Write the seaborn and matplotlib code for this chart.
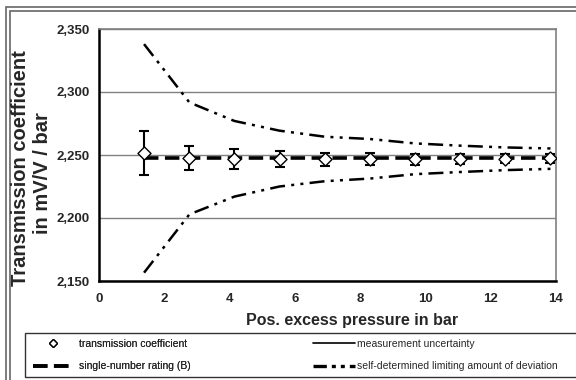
import numpy as np
import pandas as pd
import matplotlib
matplotlib.use("Agg")
import matplotlib.pyplot as plt
import seaborn as sns
from matplotlib.lines import Line2D
from matplotlib.patches import Rectangle
from matplotlib.ticker import FuncFormatter

# ---- data ----
pressure = [1.38, 2.77, 4.15, 5.53, 6.92, 8.30, 9.68, 11.07, 12.45, 13.83]
coefficient = [2.2516, 2.2474, 2.2468, 2.2466, 2.2466, 2.2466, 2.2467, 2.2467, 2.2470, 2.2474]
uncertainty = [0.0175, 0.0095, 0.0077, 0.0062, 0.0053, 0.0047, 0.0043, 0.0040, 0.0037, 0.0035]
rating_b = [2.2473] * 10
limit_upper = [2.3380, 2.2917, 2.2770, 2.2693, 2.2645, 2.2627, 2.2592, 2.2574, 2.2560, 2.2552]
limit_lower = [2.1566, 2.2029, 2.2170, 2.2250, 2.2292, 2.2313, 2.2348, 2.2365, 2.2380, 2.2390]

y_ticks = [2.15, 2.20, 2.25, 2.30, 2.35]
x_ticks = [0, 2, 4, 6, 8, 10, 12, 14]

df = pd.DataFrame({"p": pressure, "c": coefficient, "u": uncertainty,
                   "b": rating_b, "up": limit_upper, "lo": limit_lower})

sns.set_style("white")
plt.rcParams["font.family"] = ["Liberation Sans", "DejaVu Sans"]

fig = plt.figure(figsize=(5.76, 3.80), dpi=100)
W, H = 576, 380
ax = fig.add_axes([99 / W, 1 - 281 / H, (556 - 99) / W, (281 - 29) / H])

# outer double frame
for off in (6, 10):
    fig.patches.append(Rectangle((off / W, -0.05), 1.2, 1 - (off + 1) / H + 0.05,
                                 transform=fig.transFigure, fill=False,
                                 edgecolor="#666666", lw=1.2))

# grid lines
for yv in y_ticks:
    ax.axhline(yv, color="#808080", lw=1.0, zorder=0)

limit_dash = (6, 2.5, 1.2, 2.5, 1.2, 2.5)
sns.lineplot(data=df, x="p", y="up", ax=ax, color="black", lw=1.8,
             estimator=None, sort=False, zorder=2)
sns.lineplot(data=df, x="p", y="lo", ax=ax, color="black", lw=1.8,
             estimator=None, sort=False, zorder=2)
for ln in ax.lines[-2:]:
    ln.set_dashes(limit_dash)

sns.lineplot(data=df, x="p", y="b", ax=ax, color="black", lw=2.6,
             estimator=None, sort=False, zorder=3)
ax.lines[-1].set_dashes((4, 1.8))

ax.errorbar(df["p"], df["c"], yerr=df["u"], fmt="none", ecolor="black",
            elinewidth=1.5, capsize=3.5, capthick=1.5, zorder=4)
sns.scatterplot(data=df, x="p", y="c", ax=ax, marker="D", s=44,
                facecolor="white", edgecolor="black", linewidth=1.0, zorder=5)

ax.set_xlim(0, 14)
ax.set_ylim(2.15, 2.35)
ax.set_xticks(x_ticks)
ax.set_yticks(y_ticks)
ax.yaxis.set_major_formatter(FuncFormatter(lambda v, p: f"{v:.3f}".replace(".", ",")))
ax.tick_params(axis="both", labelsize=9.5, direction="out", length=4, width=1.3,
               color="black", pad=3)
ax.tick_params(axis="x", pad=5)
for lab in ax.get_xticklabels() + ax.get_yticklabels():
    lab.set_fontweight("bold")
ax.set_xlabel("")
ax.set_ylabel("")

for s in ["left", "bottom"]:
    ax.spines[s].set_color("black")
    ax.spines[s].set_linewidth(1.8)
for s in ["top", "right"]:
    ax.spines[s].set_color("#808080")
    ax.spines[s].set_linewidth(1.2)
    ax.spines[s].set_visible(True)

fig.text(352 / W, 1 - 321 / H, "Pos. excess pressure in bar", ha="center", va="center",
         fontsize=11.5, fontweight="bold")
fig.text(21 / W, 1 - 168 / H, "Transmission coefficient", ha="center", va="center",
         rotation=90, fontsize=14.5, fontweight="bold")
fig.text(43 / W, 1 - 173 / H, "in mV/V / bar", ha="center", va="center",
         rotation=90, fontsize=14.5, fontweight="bold")

# legend frame
fig.patches.append(Rectangle((25 / W, 1 - 377 / H), 1.0, 44 / H, transform=fig.transFigure,
                             fill=False, edgecolor="#333333", lw=1.0))

h_left = [
    Line2D([], [], ls="none", marker="D", markersize=4.5, markerfacecolor="white",
           markeredgecolor="black", markeredgewidth=1.0),
    Line2D([], [], color="black", lw=2.6, dashes=(4, 1.8)),
]
l_left = ["transmission coefficient", "single-number rating (B)"]
h_right = [
    Line2D([], [], color="black", lw=1.2),
    Line2D([], [], color="black", lw=2.4, dashes=(4, 1.5, 1.2, 1.5, 1.2, 1.5)),
]
l_right = ["measurement uncertainty", "self-determined limiting amount of deviation"]

common = dict(loc="center left", fontsize=7.5, frameon=False, borderpad=0,
              borderaxespad=0, labelspacing=1.2, handleheight=0.7)
leg1 = fig.legend(h_left, l_left, bbox_to_anchor=(33 / W, 1 - 355 / H),
                  handlelength=3.8, handletextpad=0.6, **common)
fig.add_artist(leg1)
leg2 = fig.legend(h_right, l_right, bbox_to_anchor=(313 / W, 1 - 355 / H),
                  handlelength=4.0, handletextpad=0.2, **common)

fig.savefig("out.png", dpi=100)
